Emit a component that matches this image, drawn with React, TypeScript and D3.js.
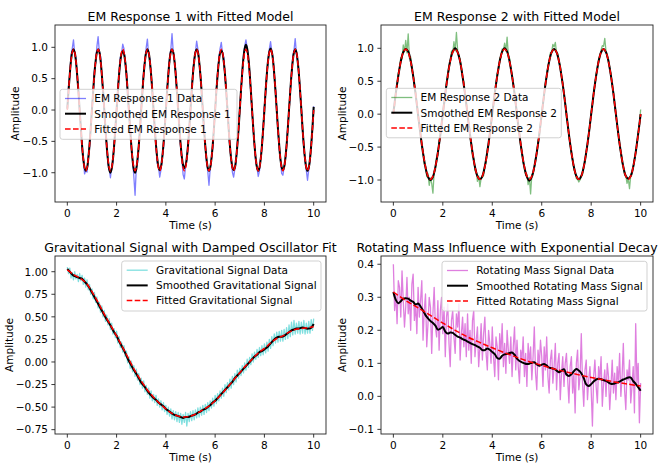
import * as d3 from "d3";

const FONT = "'DejaVu Sans', 'Liberation Sans', sans-serif";

// EM response 1, 0–10 s every 0.05 s
const em1Data = [
  0.05, 0.38, 0.55, 0.86, 0.98, 1.12, 0.9, 0.83, 0.52, 0.35, -0.04, -0.27, -0.63, -0.76, -1.02, -0.96, -0.99, -0.74, -0.61, -0.25,
  0.06, 0.27, 0.63, 0.76, 1.01, 1.17, 0.93, 0.85, 0.55, 0.26, 0.05, -0.36, -0.54, -0.86, -0.93, -1.08, -0.9, -0.83, -0.53, -0.33,
  -0.04, 0.34, 0.56, 0.84, 0.9, 1.05, 0.98, 0.75, 0.62, 0.28, -0.06, -0.27, -0.61, -0.79, -1.06, -1.36, -0.92, -0.84, -0.56, -0.31,
  0.03, 0.29, 0.61, 0.77, 0.99, 1.13, 0.88, 0.82, 0.55, 0.33, 0.02, -0.34, -0.55, -0.85, -0.9, -1.07, -0.96, -0.76, -0.62, -0.27,
  -0.02, 0.35, 0.54, 0.83, 0.96, 1.22, 0.92, 0.78, 0.6, 0.27, 0.04, -0.29, -0.6, -0.77, -1.03, -1.1, -0.89, -0.81, -0.55, -0.34,
  0.04, 0.27, 0.62, 0.8, 0.93, 1.1, 0.97, 0.76, 0.57, 0.32, -0.03, -0.33, -0.57, -0.83, -0.97, -1.2, -0.93, -0.78, -0.6, -0.28,
  -0.03, 0.33, 0.57, 0.82, 0.98, 1.08, 0.9, 0.84, 0.53, 0.3, 0.05, -0.28, -0.62, -0.76, -0.99, -1.07, -0.94, -0.82, -0.56, -0.32,
  0.02, 0.31, 0.6, 0.85, 1.02, 1.12, 0.99, 0.8, 0.61, 0.27, -0.04, -0.32, -0.56, -0.84, -0.92, -1.06, -0.97, -0.75, -0.59, -0.29,
  0.05, 0.28, 0.58, 0.79, 0.97, 1.09, 0.93, 0.83, 0.55, 0.34, 0.01, -0.3, -0.61, -0.78, -1.01, -1.04, -0.91, -0.8, -0.57, -0.26,
  -0.02, 0.32, 0.55, 0.84, 0.95, 1.14, 0.9, 0.77, 0.6, 0.29, 0.03, -0.35, -0.58, -0.82, -0.96, -1.12, -0.95, -0.79, -0.55, -0.31,
  0.06,
];
const em1Smooth = [
  0.02, 0.31, 0.57, 0.79, 0.93, 0.97, 0.92, 0.78, 0.56, 0.3, 0.01, -0.29, -0.57, -0.79, -0.92, -0.97, -0.93, -0.78, -0.56, -0.29,
  0.01, 0.3, 0.58, 0.78, 0.92, 0.97, 0.93, 0.79, 0.57, 0.31, 0.0, -0.31, -0.58, -0.8, -0.95, -1.0, -0.94, -0.79, -0.57, -0.3,
  0.0, 0.29, 0.56, 0.77, 0.9, 0.94, 0.9, 0.77, 0.56, 0.29, -0.01, -0.31, -0.58, -0.8, -0.95, -1.0, -0.94, -0.78, -0.57, -0.29,
  0.01, 0.3, 0.57, 0.78, 0.92, 0.97, 0.92, 0.78, 0.57, 0.3, 0.0, -0.3, -0.56, -0.77, -0.91, -0.96, -0.91, -0.77, -0.56, -0.3,
  0.0, 0.3, 0.57, 0.79, 0.93, 0.97, 0.92, 0.78, 0.56, 0.29, 0.0, -0.29, -0.55, -0.75, -0.88, -0.93, -0.89, -0.76, -0.56, -0.29,
  0.01, 0.31, 0.58, 0.78, 0.92, 0.97, 0.93, 0.78, 0.57, 0.3, 0.0, -0.3, -0.57, -0.78, -0.92, -0.97, -0.92, -0.78, -0.57, -0.3,
  0.0, 0.3, 0.56, 0.77, 0.91, 0.95, 0.91, 0.77, 0.57, 0.3, 0.0, -0.3, -0.57, -0.78, -0.91, -0.96, -0.92, -0.78, -0.57, -0.31,
  0.0, 0.32, 0.6, 0.83, 0.98, 1.04, 0.98, 0.83, 0.6, 0.31, 0.0, -0.3, -0.57, -0.78, -0.92, -0.97, -0.92, -0.78, -0.57, -0.3,
  0.0, 0.31, 0.58, 0.79, 0.93, 0.98, 0.93, 0.79, 0.57, 0.3, 0.0, -0.3, -0.56, -0.78, -0.91, -0.96, -0.91, -0.77, -0.56, -0.29,
  0.01, 0.3, 0.57, 0.78, 0.92, 0.97, 0.92, 0.78, 0.57, 0.3, 0.0, -0.3, -0.57, -0.78, -0.92, -0.97, -0.92, -0.78, -0.56, -0.28,
  0.05,
];
const em1Fit = [
  0, 0.3, 0.57, 0.78, 0.92, 0.97, 0.92, 0.78, 0.57, 0.3, 0, -0.3, -0.57, -0.78, -0.92, -0.97, -0.92, -0.78, -0.57, -0.3,
  0, 0.3, 0.57, 0.78, 0.92, 0.97, 0.92, 0.78, 0.57, 0.3, 0, -0.3, -0.57, -0.78, -0.92, -0.97, -0.92, -0.78, -0.57, -0.3,
  0, 0.3, 0.57, 0.78, 0.92, 0.97, 0.92, 0.78, 0.57, 0.3, 0, -0.3, -0.57, -0.78, -0.92, -0.97, -0.92, -0.78, -0.57, -0.3,
  0, 0.3, 0.57, 0.78, 0.92, 0.97, 0.92, 0.78, 0.57, 0.3, 0, -0.3, -0.57, -0.78, -0.92, -0.97, -0.92, -0.78, -0.57, -0.3,
  0, 0.3, 0.57, 0.78, 0.92, 0.97, 0.92, 0.78, 0.57, 0.3, 0, -0.3, -0.57, -0.78, -0.92, -0.97, -0.92, -0.78, -0.57, -0.3,
  0, 0.3, 0.57, 0.78, 0.92, 0.97, 0.92, 0.78, 0.57, 0.3, 0, -0.3, -0.57, -0.78, -0.92, -0.97, -0.92, -0.78, -0.57, -0.3,
  0, 0.3, 0.57, 0.78, 0.92, 0.97, 0.92, 0.78, 0.57, 0.3, 0, -0.3, -0.57, -0.78, -0.92, -0.97, -0.92, -0.78, -0.57, -0.3,
  0, 0.3, 0.57, 0.78, 0.92, 0.97, 0.92, 0.78, 0.57, 0.3, 0, -0.3, -0.57, -0.78, -0.92, -0.97, -0.92, -0.78, -0.57, -0.3,
  0, 0.3, 0.57, 0.78, 0.92, 0.97, 0.92, 0.78, 0.57, 0.3, 0, -0.3, -0.57, -0.78, -0.92, -0.97, -0.92, -0.78, -0.57, -0.3,
  0, 0.3, 0.57, 0.78, 0.92, 0.97, 0.92, 0.78, 0.57, 0.3, 0, -0.3, -0.57, -0.78, -0.92, -0.97, -0.92, -0.78, -0.57, -0.3,
  0,
];

// EM response 2: data every 0.05 s, smoothed / fitted every 0.1 s
const em2Data = [
  0.12, 0.1, 0.38, 0.41, 0.63, 0.69, 0.86, 0.84, 1.05, 0.95, 1.12, 0.93, 1.22, 0.85, 0.87, 0.66, 0.63, 0.41, 0.35, 0.12,
  -0.05, -0.2, -0.27, -0.5, -0.55, -0.76, -0.78, -0.95, -0.9, -1.08, -0.97, -1.05, -1.2, -0.88, -0.85, -0.65, -0.63, -0.4, -0.35, -0.11,
  0.06, 0.19, 0.27, 0.5, 0.55, 0.74, 0.78, 0.96, 0.92, 1.1, 0.96, 1.24, 0.97, 0.86, 0.84, 0.7, 0.55, 0.49, 0.26, 0.18,
  -0.07, -0.13, -0.36, -0.42, -0.64, -0.67, -0.86, -0.85, -1.02, -0.94, -1.1, -0.97, -0.96, -0.93, -0.77, -0.74, -0.53, -0.47, -0.27, -0.19,
  0.04, 0.12, 0.35, 0.42, 0.62, 0.66, 0.85, 0.86, 0.99, 0.97, 1.08, 0.96, 1.17, 0.89, 0.85, 0.68, 0.61, 0.43, 0.33, 0.13,
  -0.03, -0.19, -0.28, -0.49, -0.56, -0.74, -0.79, -0.93, -0.91, -1.07, -0.96, -1.21, -0.92, -0.9, -0.82, -0.68, -0.6, -0.42, -0.32, -0.14,
  0.05, 0.17, 0.28, 0.48, 0.57, 0.73, 0.79, 0.93, 0.94, 1.06, 1.02, 1.09, 0.93, 0.92, 0.78, 0.74, 0.55, 0.48, 0.28, 0.19,
  -0.06, -0.14, -0.34, -0.44, -0.61, -0.69, -0.84, -0.88, -0.98, -0.99, -1.03, -1.0, -0.94, -0.92, -0.79, -0.72, -0.57, -0.46, -0.29, -0.17,
  0.03, 0.14, 0.33, 0.44, 0.61, 0.69, 0.83, 0.88, 0.97, 1.04, 1.03, 1.15, 0.95, 0.87, 0.83, 0.69, 0.61, 0.43, 0.33, 0.12,
  -0.02, -0.18, -0.3, -0.47, -0.57, -0.72, -0.8, -0.92, -0.93, -1.05, -0.98, -1.13, -0.93, -0.87, -0.83, -0.68, -0.59, -0.44, -0.3, -0.16,
  0.07,
];
const em2Smooth = [
  0.02, 0.32, 0.58, 0.8, 0.94, 0.99, 0.95, 0.81, 0.58, 0.3, -0.01, -0.32, -0.59, -0.81, -0.95, -1.0, -0.95, -0.8, -0.58, -0.31,
  0.0, 0.31, 0.59, 0.81, 0.95, 1.0, 0.94, 0.8, 0.57, 0.3, 0.0, -0.31, -0.58, -0.8, -0.94, -0.99, -0.94, -0.79, -0.57, -0.3,
  0.01, 0.31, 0.58, 0.8, 0.95, 1.0, 0.95, 0.8, 0.58, 0.31, -0.01, -0.32, -0.59, -0.81, -0.95, -1.01, -0.95, -0.8, -0.58, -0.31,
  0.0, 0.31, 0.58, 0.8, 0.94, 0.99, 0.94, 0.8, 0.58, 0.31, 0.0, -0.31, -0.58, -0.8, -0.94, -0.99, -0.94, -0.8, -0.58, -0.31,
  0.0, 0.31, 0.58, 0.8, 0.94, 0.99, 0.94, 0.8, 0.58, 0.31, 0.0, -0.31, -0.58, -0.8, -0.94, -0.98, -0.94, -0.8, -0.58, -0.3,
  0.0,
];
const em2Fit = [
  0, 0.31, 0.58, 0.8, 0.94, 0.99, 0.94, 0.8, 0.58, 0.31, 0, -0.31, -0.58, -0.8, -0.94, -0.99, -0.94, -0.8, -0.58, -0.31,
  0, 0.31, 0.58, 0.8, 0.94, 0.99, 0.94, 0.8, 0.58, 0.31, 0, -0.31, -0.58, -0.8, -0.94, -0.99, -0.94, -0.8, -0.58, -0.31,
  0, 0.31, 0.58, 0.8, 0.94, 0.99, 0.94, 0.8, 0.58, 0.31, 0, -0.31, -0.58, -0.8, -0.94, -0.99, -0.94, -0.8, -0.58, -0.31,
  0, 0.31, 0.58, 0.8, 0.94, 0.99, 0.94, 0.8, 0.58, 0.31, 0, -0.31, -0.58, -0.8, -0.94, -0.99, -0.94, -0.8, -0.58, -0.31,
  0, 0.31, 0.58, 0.8, 0.94, 0.99, 0.94, 0.8, 0.58, 0.31, 0, -0.31, -0.58, -0.8, -0.94, -0.99, -0.94, -0.8, -0.58, -0.31,
  0,
];

// Gravitational signal: data every 0.05 s, smoothed every 0.1 s, fit every 0.25 s
const gravData = [
  1.05, 0.98, 1.04, 0.93, 0.99, 0.91, 1.0, 0.92, 0.97, 0.89, 0.98, 0.9, 0.96, 0.86, 0.93, 0.83, 0.91, 0.8, 0.86, 0.75,
  0.81, 0.7, 0.77, 0.66, 0.72, 0.6, 0.66, 0.55, 0.62, 0.5, 0.57, 0.45, 0.52, 0.41, 0.48, 0.36, 0.43, 0.31, 0.37, 0.27,
  0.34, 0.21, 0.28, 0.16, 0.22, 0.11, 0.18, 0.06, 0.12, -0.01, 0.06, -0.07, 0.01, -0.11, -0.04, -0.16, -0.08, -0.2, -0.13, -0.25,
  -0.18, -0.29, -0.21, -0.33, -0.26, -0.36, -0.29, -0.4, -0.32, -0.43, -0.36, -0.45, -0.37, -0.48, -0.41, -0.5, -0.43, -0.53, -0.45, -0.55,
  -0.48, -0.58, -0.5, -0.6, -0.52, -0.63, -0.54, -0.64, -0.55, -0.66, -0.56, -0.67, -0.57, -0.69, -0.58, -0.67, -0.56, -0.71, -0.57, -0.66,
  -0.55, -0.65, -0.54, -0.64, -0.53, -0.62, -0.51, -0.61, -0.5, -0.59, -0.48, -0.58, -0.47, -0.56, -0.45, -0.54, -0.43, -0.51, -0.4, -0.49,
  -0.37, -0.46, -0.35, -0.43, -0.32, -0.4, -0.29, -0.38, -0.25, -0.34, -0.23, -0.31, -0.19, -0.29, -0.16, -0.25, -0.13, -0.22, -0.09, -0.18,
  -0.07, -0.15, -0.04, -0.12, -0.01, -0.09, 0.03, -0.06, 0.05, -0.03, 0.09, 0.0, 0.11, 0.03, 0.14, 0.05, 0.16, 0.07, 0.18, 0.08,
  0.2, 0.1, 0.22, 0.12, 0.25, 0.15, 0.28, 0.18, 0.31, 0.21, 0.33, 0.22, 0.34, 0.23, 0.35, 0.23, 0.36, 0.25, 0.38, 0.26,
  0.41, 0.28, 0.44, 0.3, 0.46, 0.31, 0.43, 0.32, 0.45, 0.31, 0.44, 0.32, 0.46, 0.31, 0.43, 0.32, 0.45, 0.32, 0.47, 0.35,
  0.48,
];
const gravSmooth = [
  1.03, 1.0, 0.97, 0.95, 0.94, 0.93, 0.92, 0.89, 0.86, 0.82,
  0.77, 0.72, 0.67, 0.62, 0.57, 0.52, 0.47, 0.43, 0.38, 0.33,
  0.29, 0.23, 0.18, 0.13, 0.07, 0.01, -0.04, -0.09, -0.13, -0.18,
  -0.23, -0.26, -0.3, -0.34, -0.37, -0.4, -0.42, -0.45, -0.47, -0.49,
  -0.52, -0.54, -0.56, -0.58, -0.59, -0.6, -0.61, -0.62, -0.61, -0.61,
  -0.6, -0.59, -0.58, -0.56, -0.55, -0.53, -0.52, -0.5, -0.48, -0.45,
  -0.43, -0.4, -0.37, -0.34, -0.31, -0.28, -0.25, -0.22, -0.18, -0.15,
  -0.12, -0.09, -0.06, -0.03, 0.0, 0.03, 0.06, 0.08, 0.11, 0.12,
  0.14, 0.16, 0.19, 0.22, 0.25, 0.27, 0.28, 0.28, 0.29, 0.31,
  0.33, 0.35, 0.36, 0.37, 0.37, 0.38, 0.38, 0.37, 0.37, 0.38,
  0.42,
];
const gravFit = [
  1.02, 0.97, 0.93, 0.88, 0.78, 0.66, 0.53, 0.41, 0.29, 0.16,
  0.03, -0.1, -0.21, -0.31, -0.39, -0.46, -0.52, -0.57, -0.6, -0.61,
  -0.6, -0.57, -0.53, -0.49, -0.43, -0.36, -0.28, -0.2, -0.12, -0.04,
  0.03, 0.1, 0.15, 0.21, 0.26, 0.29, 0.33, 0.36, 0.37, 0.38,
  0.39,
];

// Rotating mass signal: data every 0.05 s, smoothed every 0.1 s, fit every 0.5 s
const rotData = [
  0.4, 0.26, 0.31, 0.22, 0.35, 0.33, 0.24, 0.38, 0.29, 0.21, 0.27, 0.36, 0.25, 0.3, 0.2, 0.34, 0.37, 0.23, 0.28, 0.19,
  0.33, 0.24, 0.29, 0.35, 0.17, 0.26, 0.31, 0.15, 0.22, 0.3, 0.27, 0.13, 0.25, 0.33, 0.21, 0.18, 0.29, 0.14, 0.26, 0.3,
  0.19, 0.27, 0.12, 0.24, 0.28, 0.16, 0.09, 0.23, 0.26, 0.18, 0.13, 0.25, 0.21, 0.28, 0.11, 0.19, 0.24, 0.15, 0.22, 0.12,
  0.25, 0.14, 0.2, 0.1, 0.23, 0.26, 0.12, 0.17, 0.21, 0.09, 0.15, 0.22, 0.11, 0.19, 0.24, 0.13, 0.08, 0.2, 0.16, 0.1,
  0.21, 0.12, 0.06, 0.18, 0.15, 0.05, 0.19, 0.13, 0.22, 0.09, 0.16, 0.07, 0.2, 0.14, 0.1, 0.18, 0.06, 0.15, 0.21, 0.08,
  0.17, 0.09, 0.04, 0.14, 0.11, 0.18, 0.06, 0.13, 0.03, 0.16, 0.1, 0.15, 0.05, 0.12, 0.21, 0.07, 0.02, 0.14, 0.09, 0.17,
  0.12, 0.03, 0.15, 0.08, 0.18, 0.06, 0.01, 0.11, 0.14, 0.04, 0.09, 0.16, 0.02, 0.1, 0.13, -0.01, 0.07, 0.12, 0.03, 0.1,
  0.13, 0.05, -0.02, 0.09, 0.12, 0.01, 0.07, -0.05, 0.1, 0.14, 0.02, 0.06, 0.19, 0.04, -0.03, 0.08, 0.11, -0.01, 0.05, 0.09,
  0.02, -0.09, 0.06, 0.11, 0.03, -0.02, 0.09, 0.05, 0.12, -0.03, 0.04, 0.08, 0.0, 0.1, 0.06, -0.04, 0.03, 0.11, 0.01, 0.07,
  -0.01, 0.09, 0.04, 0.13, 0.0, 0.06, 0.16, 0.02, -0.04, 0.08, 0.05, 0.11, -0.02, 0.03, 0.09, -0.05, 0.22, 0.04, 0.1, -0.08,
  0.04,
];
const rotSmooth = [
  0.316, 0.292, 0.282, 0.288, 0.296, 0.297, 0.296, 0.29, 0.286, 0.278,
  0.281, 0.272, 0.26, 0.246, 0.236, 0.228, 0.222, 0.214, 0.202, 0.205,
  0.21, 0.196, 0.19, 0.193, 0.192, 0.186, 0.181, 0.178, 0.173, 0.17,
  0.166, 0.162, 0.158, 0.155, 0.151, 0.147, 0.14, 0.14, 0.145, 0.141,
  0.134, 0.128, 0.116, 0.114, 0.123, 0.127, 0.129, 0.131, 0.133, 0.126,
  0.114, 0.107, 0.103, 0.1, 0.098, 0.099, 0.102, 0.103, 0.097, 0.093,
  0.096, 0.098, 0.093, 0.087, 0.085, 0.083, 0.078, 0.073, 0.078, 0.082,
  0.066, 0.062, 0.067, 0.076, 0.083, 0.078, 0.07, 0.055, 0.036, 0.031,
  0.037, 0.045, 0.051, 0.053, 0.052, 0.049, 0.047, 0.042, 0.038, 0.038,
  0.041, 0.043, 0.047, 0.051, 0.054, 0.057, 0.057, 0.046, 0.038, 0.028,
  0.017,
];
const rotFit = [
  0.316, 0.29, 0.268, 0.245, 0.222, 0.2, 0.18, 0.163, 0.147, 0.132,
  0.118, 0.105, 0.094, 0.083, 0.074, 0.065, 0.057, 0.05, 0.043, 0.037,
  0.031,
];

const xTicks = [0, 2, 4, 6, 8, 10];
const emTicks = [-1, -0.5, 0, 0.5, 1];
const gravTicks = [-0.75, -0.5, -0.25, 0, 0.25, 0.5, 0.75, 1];
const rotTicks = [-0.1, 0, 0.1, 0.2, 0.3, 0.4];

type Series = {
  label: string;
  values: number[];
  color: string;
  opacity?: number;
  width: number;
  dash?: string;
  smooth?: boolean;
};

type Box = { x0: number; x1: number; y0: number; y1: number };
type LegendBox = { x: number; y: number; w: number; h: number };

function Panel({
  id,
  box,
  yDomain,
  yTicks,
  yFormat,
  title,
  titleDx = 0,
  ylabelX,
  legend,
  series,
}: {
  id: string;
  box: Box;
  yDomain: [number, number];
  yTicks: number[];
  yFormat: string;
  title: string;
  titleDx?: number;
  ylabelX: number;
  legend: LegendBox;
  series: Series[];
}) {
  const x = d3.scaleLinear().domain([-0.5, 10.5]).range([box.x0, box.x1]);
  const y = d3.scaleLinear().domain(yDomain).range([box.y1, box.y0]);
  const fmt = d3.format(yFormat);
  const cx = (box.x0 + box.x1) / 2;
  const cy = (box.y0 + box.y1) / 2;

  return (
    <g>
      <defs>
        <clipPath id={`clip-${id}`}>
          <rect x={box.x0} y={box.y0} width={box.x1 - box.x0} height={box.y1 - box.y0} />
        </clipPath>
      </defs>
      <g clipPath={`url(#clip-${id})`}>
        {series.map((s) => {
          const n = s.values.length;
          const line = d3
            .line<number>()
            .x((_, i) => x((i * 10) / (n - 1)))
            .y((d) => y(d))
            .curve(s.smooth ? d3.curveCatmullRom : d3.curveLinear);
          return (
            <path
              key={s.label}
              d={line(s.values) ?? ""}
              fill="none"
              stroke={s.color}
              strokeOpacity={s.opacity ?? 1}
              strokeWidth={s.width}
              strokeDasharray={s.dash}
              strokeLinejoin="round"
            />
          );
        })}
      </g>

      {/* frame */}
      <rect
        x={box.x0}
        y={box.y0}
        width={box.x1 - box.x0}
        height={box.y1 - box.y0}
        fill="none"
        stroke="#222"
        strokeWidth={0.9}
      />

      {/* x ticks */}
      {xTicks.map((t) => (
        <g key={`x${t}`}>
          <line x1={x(t)} x2={x(t)} y1={box.y1} y2={box.y1 + 3.6} stroke="#222" strokeWidth={0.9} />
          <text x={x(t)} y={box.y1 + 14.8} textAnchor="middle" fontSize={10.5} fontFamily={FONT}>
            {t}
          </text>
        </g>
      ))}
      <text x={cx} y={box.y1 + 26.5} textAnchor="middle" fontSize={10.5} fontFamily={FONT}>
        Time (s)
      </text>

      {/* y ticks */}
      {yTicks.map((t) => (
        <g key={`y${t}`}>
          <line x1={box.x0 - 3.6} x2={box.x0} y1={y(t)} y2={y(t)} stroke="#222" strokeWidth={0.9} />
          <text x={box.x0 - 7} y={y(t) + 3.8} textAnchor="end" fontSize={10.5} fontFamily={FONT}>
            {fmt(t)}
          </text>
        </g>
      ))}
      <text
        transform={`translate(${ylabelX},${cy}) rotate(-90)`}
        textAnchor="middle"
        fontSize={10.5}
        fontFamily={FONT}
      >
        Amplitude
      </text>

      <text x={cx + titleDx} y={box.y0 - 4.3} textAnchor="middle" fontSize={12.5} fontFamily={FONT}>
        {title}
      </text>

      {/* legend */}
      <g>
        <rect
          x={legend.x}
          y={legend.y}
          width={legend.w}
          height={legend.h}
          rx={2.5}
          fill="#fff"
          fillOpacity={0.8}
          stroke="#cccccc"
          strokeWidth={0.9}
        />
        {series.map((s, i) => {
          const ry = legend.y + 9.2 + i * 15.2;
          return (
            <g key={`lg${s.label}`}>
              <line
                x1={legend.x + 5}
                x2={legend.x + 26}
                y1={ry}
                y2={ry}
                stroke={s.color}
                strokeOpacity={s.opacity ?? 1}
                strokeWidth={s.width}
                strokeDasharray={s.dash}
              />
              <text x={legend.x + 34.3} y={ry + 3.8} fontSize={10.5} fontFamily={FONT}>
                {s.label}
              </text>
            </g>
          );
        })}
      </g>
    </g>
  );
}

const SMOOTH_W = 2;
const FIT_W = 1.5;
const DATA_W = 1.3;
const DASH = "5.6 2.4";

export default function App() {
  return (
    <svg
      width={664}
      height={475}
      style={{ position: "absolute", left: 0, top: 0, background: "#fff" }}
    >
      <Panel
        id="em1"
        box={{ x0: 55, x1: 326, y0: 25, y1: 202 }}
        yDomain={[-1.467, 1.356]}
        yTicks={emTicks}
        yFormat=".1f"
        title="EM Response 1 with Fitted Model"
        ylabelX={18.7}
        legend={{ x: 60, y: 89.3, w: 177, h: 50 }}
        series={[
          { label: "EM Response 1 Data", values: em1Data, color: "#0000ff", opacity: 0.5, width: DATA_W },
          { label: "Smoothed EM Response 1", values: em1Smooth, color: "#000", width: SMOOTH_W, smooth: true },
          { label: "Fitted EM Response 1", values: em1Fit, color: "#ff0000", width: FIT_W, dash: DASH, smooth: true },
        ]}
      />
      <Panel
        id="em2"
        box={{ x0: 381, x1: 653, y0: 25, y1: 202 }}
        yDomain={[-1.334, 1.354]}
        yTicks={emTicks}
        yFormat=".1f"
        title="EM Response 2 with Fitted Model"
        ylabelX={346.4}
        legend={{ x: 386.3, y: 88.3, w: 175, h: 49.5 }}
        series={[
          { label: "EM Response 2 Data", values: em2Data, color: "#008000", opacity: 0.5, width: DATA_W },
          { label: "Smoothed EM Response 2", values: em2Smooth, color: "#000", width: SMOOTH_W, smooth: true },
          { label: "Fitted EM Response 2", values: em2Fit, color: "#ff0000", width: FIT_W, dash: DASH, smooth: true },
        ]}
      />
      <Panel
        id="grav"
        box={{ x0: 55, x1: 326, y0: 256, y1: 434 }}
        yDomain={[-0.798, 1.174]}
        yTicks={gravTicks}
        yFormat=".2f"
        title="Gravitational Signal with Damped Oscillator Fit"
        ylabelX={13.4}
        legend={{ x: 121.7, y: 261, w: 199.3, h: 50 }}
        series={[
          { label: "Gravitational Signal Data", values: gravData, color: "#00bfbf", opacity: 0.5, width: DATA_W },
          { label: "Smoothed Gravitational Signal", values: gravSmooth, color: "#000", width: SMOOTH_W, smooth: true },
          { label: "Fitted Gravitational Signal", values: gravFit, color: "#ff0000", width: FIT_W, dash: DASH, smooth: true },
        ]}
      />
      <Panel
        id="rot"
        box={{ x0: 381, x1: 653, y0: 256, y1: 434 }}
        yDomain={[-0.114, 0.425]}
        yTicks={rotTicks}
        yFormat=".1f"
        title="Rotating Mass Influence with Exponential Decay"
        titleDx={-10}
        ylabelX={346.4}
        legend={{ x: 442, y: 261.3, w: 205, h: 49.7 }}
        series={[
          { label: "Rotating Mass Signal Data", values: rotData, color: "#bf00bf", opacity: 0.5, width: DATA_W },
          { label: "Smoothed Rotating Mass Signal", values: rotSmooth, color: "#000", width: SMOOTH_W, smooth: true },
          { label: "Fitted Rotating Mass Signal", values: rotFit, color: "#ff0000", width: FIT_W, dash: DASH, smooth: true },
        ]}
      />
    </svg>
  );
}
